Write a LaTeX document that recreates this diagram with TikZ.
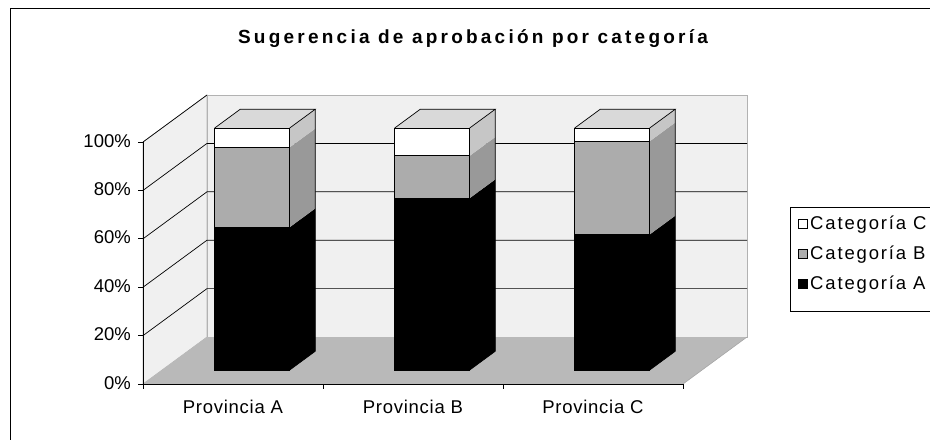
\documentclass[tikz,border=0pt]{standalone}
\usepackage{fontspec}
\setmainfont{Liberation Sans}
\newfontfamily\titlefont[LetterSpace=17]{Liberation Sans Bold}
\newfontfamily\provfont[LetterSpace=4]{Liberation Sans}
\newfontfamily\legfont[LetterSpace=10]{Liberation Sans}
\usepackage{tikz}

\begin{document}
\begin{tikzpicture}[
    x=1pt,y=-1pt,
    wall/.style={fill=gray!12,draw=gray!60,line width=0.6pt},
    grid line/.style={black,line width=0.7pt},
    catA/.style={fill=black},
    catB/.style={fill=gray!65},
    catC/.style={fill=white},
    edge/.style={draw=black,line width=0.7pt},
    keybox/.style={draw=black,line width=0.6pt,minimum size=9pt,inner sep=0pt},
]
    \useasboundingbox (0,0) rectangle (930,440);
    \draw[line width=0.8pt] (930,8) -- (10,8) -- (10,440);
    % walls and floor
    \filldraw[wall] (143,142) -- (207,95) -- (207,337) -- (143,384) -- cycle;
    \filldraw[wall] (207,95) rectangle (747,337);
    \foreach \k in {1,...,4}
    {
      \draw[grid line] (143,{142+48.4*\k}) -- (207,{95+48.4*\k}) -- (747,{95+48.4*\k});
    }
    \draw[grid line] (143,142) -- (207,95);
    \fill[gray!55] (143,384) -- (683,384) -- (747,337) -- (207,337) -- cycle;
    \draw[gray!70,line width=0.6pt] (683,384) -- (747,337);
    % bars
    \foreach \prov/\cx/\va/\vb in {A/233/59/33,B/413/71/17.5,C/593/56/38.5}
    {
      \pgfmathsetmacro{\xl}{\cx+19.2-37.5}
      \pgfmathsetmacro{\xr}{\cx+19.2+37.5}
      \pgfmathsetmacro{\ya}{370-2.42*\va}
      \pgfmathsetmacro{\yb}{370-2.42*(\va+\vb)}
      \fill[catA] (\xl,370) rectangle (\xr,\ya);
      \fill[catB] (\xl,\ya) rectangle (\xr,\yb);
      \fill[catC] (\xl,\yb) rectangle (\xr,128);
      \fill[black] (\xr,370) -- (\xr,\ya) -- ++(25.6,-18.8) -- (\xr+25.6,351.2) -- cycle;
      \fill[gray!80] (\xr,\ya) -- (\xr,\yb) -- ++(25.6,-18.8) -- (\xr+25.6,\ya-18.8) -- cycle;
      \fill[gray!45] (\xr,\yb) -- (\xr,128) -- ++(25.6,-18.8) -- (\xr+25.6,\yb-18.8) -- cycle;
      \fill[gray!30] (\xl,128) -- (\xr,128) -- ++(25.6,-18.8) -- (\xl+25.6,109.2) -- cycle;
      \draw[edge] (\xl,370) rectangle (\xr,128);
      \draw[edge] (\xl,\ya) -- (\xr,\ya) (\xl,\yb) -- (\xr,\yb);
      \draw[edge] (\xl,128) -- ++(25.6,-18.8) -- (\xr+25.6,109.2) -- (\xr,128);
      \draw[edge] (\xr+25.6,109.2) -- (\xr+25.6,351.2) -- (\xr,370);
      \node[anchor=base] (prov\prov) at (\cx,413) {\fontsize{18.5}{21}\provfont Provincia \prov};
    }
    % axes
    \draw[line width=0.8pt] (143,142) -- (143,384) -- (683,384);
    \foreach \v/\k in {0/0,20/1,40/2,60/3,80/4,100/5}
    {
      \draw[line width=0.8pt] (138,{384-48.4*\k}) -- (143,{384-48.4*\k});
      \node[anchor=base east,inner sep=0pt] (ylab\v) at (131,{389-48.4*\k}) {\fontsize{18.5}{21}\selectfont \v\%};
    }
    \foreach \x in {143,323,503,683}
    {
      \draw[line width=0.8pt] (\x,384) -- (\x,389);
    }
    \node[anchor=base] (title) at (473,43) {\fontsize{19}{22}\titlefont Sugerencia de aprobación por categoría};
    % legend
    \draw[line width=0.8pt] (930,207) -- (790,207) -- (790,311) -- (930,311);
    \foreach \cat/\y/\col in {C/229/white,B/259/gray!65,A/289/black}
    {
      \node[keybox,fill=\col] (key\cat) at (803,\y-5) {};
      \node[anchor=base west,inner sep=0pt] (leg\cat) at (810,\y) {\fontsize{18.5}{21}\legfont Categoría \cat};
    }
\end{tikzpicture}
\end{document}
